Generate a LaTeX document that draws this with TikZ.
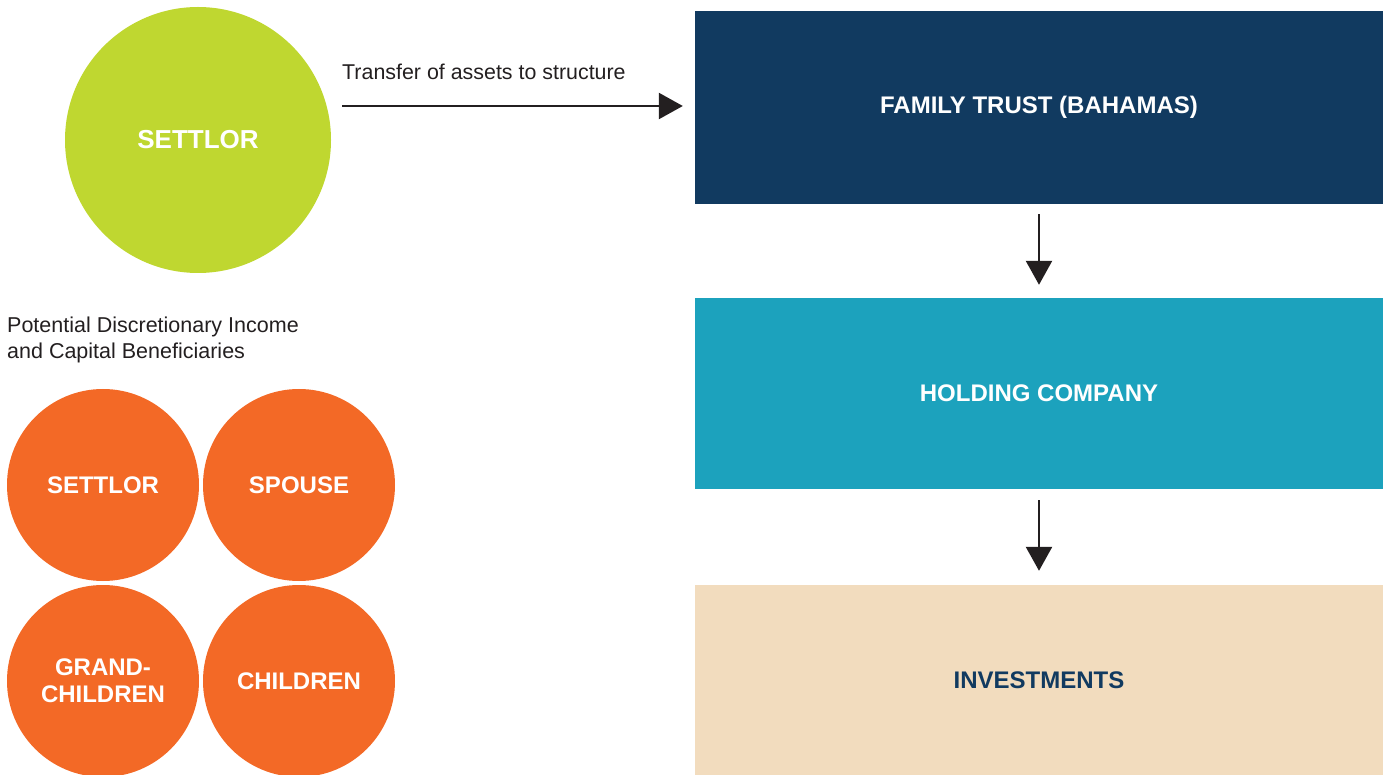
\documentclass[tikz,border=0pt]{standalone}
\usepackage{fontspec}
\setmainfont{Liberation Sans}
\usetikzlibrary{arrows.meta}
\definecolor{lime}{HTML}{BFD730}
\definecolor{navy}{HTML}{113A60}
\definecolor{teal}{HTML}{1CA2BD}
\definecolor{sand}{HTML}{F2DCBE}
\definecolor{orng}{HTML}{F36926}
\definecolor{txtgray}{HTML}{231F20}
\begin{document}
\begin{tikzpicture}[x=1pt,y=-1pt,
  lbl/.style={font=\fontsize{24}{27}\selectfont\bfseries, text=white, align=center},
  orb/.style={circle, fill=orng, minimum size=192pt, inner sep=0pt, lbl},
  box/.style={rectangle, minimum width=688pt, minimum height=193pt, inner sep=0pt, lbl},
  plain/.style={font=\fontsize{21.4}{26}\selectfont, text=txtgray, align=left},
  arr/.style={line width=2.5pt, draw=txtgray, -{Triangle[length=24pt,width=26pt]}}]
\useasboundingbox (0,0) rectangle (1387,775);
\node[circle, fill=lime, minimum size=266pt, inner sep=0pt, lbl, font=\fontsize{26}{28}\selectfont\bfseries] (settlor) at (198,140) {SETTLOR};
\node[box, fill=navy] (trust) at (1039,107.5) {FAMILY TRUST (BAHAMAS)};
\node[box, fill=teal, minimum height=191pt] (hold) at (1039,393.5) {HOLDING COMPANY};
\node[box, fill=sand, minimum height=190pt, text=navy] (inv) at (1039,680) {INVESTMENTS};
\coordinate (a1s) at (342,106);
\path (trust.west|-a1s) ++(-12,0) coordinate (a1e);
\draw[arr] (a1s) -- (a1e);
\node[plain, anchor=base west, inner sep=0pt] (tlbl) at (342,80) {Transfer of assets to structure};
\draw[arr] ([yshift=-10pt]trust.south) -- ([yshift=13pt]hold.north);
\draw[arr] ([yshift=-11pt]hold.south) -- ([yshift=14pt]inv.north);
\node[plain, anchor=north west, inner sep=0pt, font=\fontsize{21.5}{26}\selectfont] (ben) at (7,317) {Potential Discretionary Income\\and Capital Beneficiaries};
\node[orb] (o1) at (103,485) {SETTLOR};
\node[orb] (o2) at (299,485) {SPOUSE};
\node[orb] (o3) at (103,681) {GRAND-\\CHILDREN};
\node[orb] (o4) at (299,681) {CHILDREN};
\end{tikzpicture}
\end{document}
